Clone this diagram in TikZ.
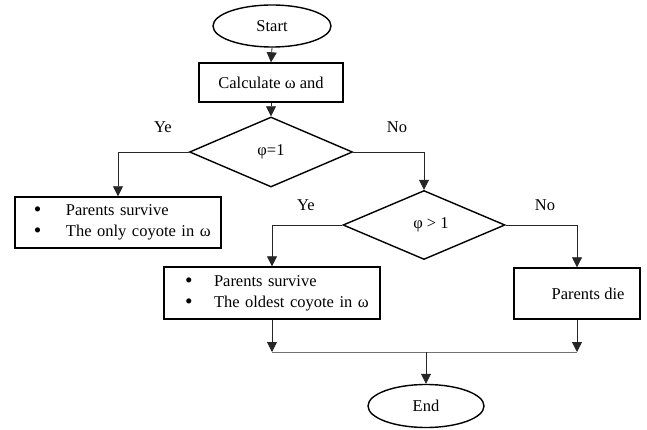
\documentclass[tikz,border=0pt]{standalone}
\usepackage{fontspec}
\setmainfont{Liberation Serif}
\usetikzlibrary{shapes.geometric,arrows.meta}
\newcommand{\mybul}{\raisebox{-0.15ex}{\scalebox{1.3}{\textbullet}}}
\begin{document}
\begin{tikzpicture}[x=1pt,y=-1pt,
  every node/.style={font=\fontsize{16.5}{21}\selectfont},
  shapebox/.style={draw=black,line width=1.4pt,inner sep=0pt},
  termbox/.style={shapebox,ellipse},
  procbox/.style={shapebox,rectangle},
  decbox/.style={shapebox,diamond},
  conn/.style={draw=black!85,line width=0.8pt,-{Triangle[length=10pt,width=10pt]}},
  plainconn/.style={draw=black!55,line width=0.8pt},
  lbl/.style={inner sep=0pt}]
\useasboundingbox (0,0) rectangle (647,430);
\node[termbox,minimum width=118pt,minimum height=42pt] (start) at (272,26) {Start};
\node[procbox,minimum width=144pt,minimum height=39pt] (calc) at (271,82.5) {Calculate ω and};
\node[decbox,minimum width=163pt,minimum height=70pt] (d1) at (271,152) {φ=1};
\node[decbox,minimum width=162pt,minimum height=69pt] (d2) at (424,225) {\hspace*{14pt}φ > 1};
\node[procbox,text width=206pt,minimum height=51pt,align=left] (b1) at (118,222.5)
  {\hspace*{19pt}\makebox[32pt][l]{\mybul}Parents survive\\
   \hspace*{19pt}\makebox[32pt][l]{\mybul}The only coyote in ω};
\node[procbox,text width=216pt,minimum height=52pt,align=left] (b2) at (272,293)
  {\hspace*{21pt}\makebox[29pt][l]{\mybul}Parents survive\\
   \hspace*{21pt}\makebox[29pt][l]{\mybul}The oldest coyote in ω};
\node[procbox,minimum width=126pt,minimum height=51pt] (b3) at (577,293.5) {\hspace*{22pt}Parents die};
\node[termbox,minimum width=116pt,minimum height=43pt] (end) at (426,406) {End};
\node[lbl] (ye1) at (163,127) {Ye};
\node[lbl] (no1) at (397,127) {No};
\node[lbl] (ye2) at (306,205) {Ye};
\node[lbl] (no2) at (545,205) {No};
\coordinate (jy) at (0,352);
\draw[conn] (start.south) -- (calc.north);
\draw[conn] (calc.south) -- (d1.north);
\draw[conn] (d1.west) -| (b1.north);
\draw[conn] (d1.east) -| (d2.north);
\draw[conn] (d2.west) -| (b2.north);
\draw[conn] (d2.east) -| (b3.north);
\draw[conn] (b2.south) -- (b2.south |- jy);
\draw[conn] (b3.south) -- (b3.south |- jy);
\draw[plainconn] (b2.south |- jy) -- (b3.south |- jy);
\draw[conn] (end.north |- jy) -- (end.north);
\end{tikzpicture}
\end{document}
